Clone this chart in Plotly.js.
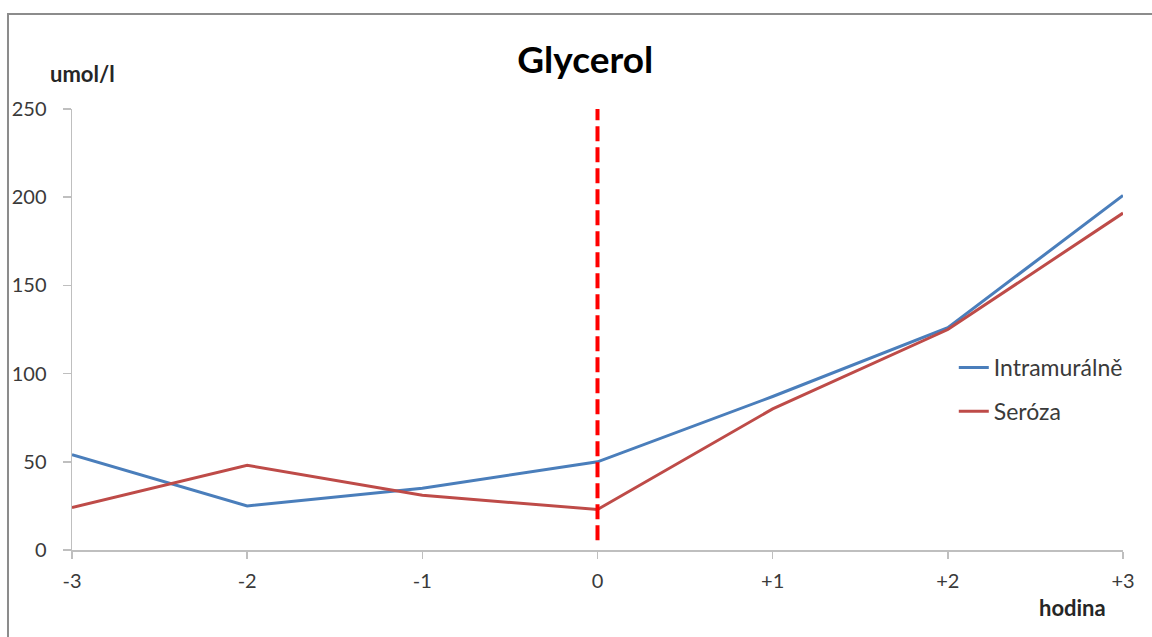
<!DOCTYPE html>
<html><head><meta charset="utf-8">
<script src="https://cdn.plot.ly/plotly-3.0.1.min.js"></script>
<style>html,body{margin:0;padding:0;background:#fff}#chart{width:1152px;height:637px}</style>
</head><body><div id="chart"></div>
<script>
const hours = [-3, -2, -1, 0, 1, 2, 3];
const hourLabels = ['-3', '-2', '-1', '0', '+1', '+2', '+3'];
const intramuralne = [54, 25, 35, 50, 87, 126, 201];
const seroza = [24, 48, 31, 23, 80, 125, 191];
const seriesNames = ['Intramurálně', 'Seróza'];
const yTicks = [0, 50, 100, 150, 200, 250];

const font = 'Lato, "Open Sans", sans-serif';
const traces = [
  {x: hours, y: intramuralne, name: seriesNames[0], type: 'scatter', mode: 'lines',
   line: {color: '#4a7ebb', width: 3}, legendgroup: 'a', hoverinfo: 'x+y'},
  {x: hours, y: seroza, name: seriesNames[1], type: 'scatter', mode: 'lines',
   line: {color: '#be4b48', width: 3}, legendgroup: 'b', hoverinfo: 'x+y'}
];
const layout = {
  width: 1152, height: 637,
  margin: {l: 72, r: 29, t: 109, b: 87},
  paper_bgcolor: '#fff', plot_bgcolor: '#fff',
  font: {family: font, size: 20, color: '#3a3a3a'},
  title: {text: '<b>Glycerol</b>', font: {family: font, size: 37, color: '#000'},
          x: 0.508, xanchor: 'center', y: 0.905, yanchor: 'middle'},
  showlegend: true,
  legend: {x: 0.839, y: 0.4626, xanchor: 'left', yanchor: 'top', tracegroupgap: 11,
           font: {family: font, size: 23, color: '#3a3a3a'}, bgcolor: 'rgba(0,0,0,0)'},
  xaxis: {range: [-3, 3], tickvals: hours, ticktext: hourLabels, showgrid: false, zeroline: false,
          showline: true, linecolor: '#bfbfbf', linewidth: 1.5, ticks: 'outside', ticklen: 7,
          tickcolor: '#bfbfbf', tickwidth: 1.5, ticklabelstandoff: 5,
          tickfont: {family: font, size: 20, color: '#3a3a3a'}},
  yaxis: {range: [0, 250], tickvals: yTicks, showgrid: false, zeroline: false,
          showline: true, linecolor: '#bfbfbf', linewidth: 1.5, ticks: 'outside', ticklen: 8,
          tickcolor: '#bfbfbf', tickwidth: 1.5, ticklabelstandoff: 12,
          tickfont: {family: font, size: 20, color: '#3a3a3a'}},
  shapes: [
    {type: 'rect', xref: 'paper', yref: 'paper', x0: -0.0609, x1: 1.2, y0: -0.5, y1: 1.2154,
     line: {color: '#8c8c8c', width: 2}, fillcolor: 'rgba(0,0,0,0)', layer: 'below'},
    {type: 'line', xref: 'x', yref: 'y', x0: 0, x1: 0, y0: 5.5, y1: 256.5,
     line: {color: '#ff0000', width: 4, dash: '15px,6px'}}
  ],
  annotations: [
    {text: '<b>umol/l</b>', xref: 'paper', yref: 'paper', x: -0.0228, y: 1.08, xanchor: 'left', yanchor: 'middle',
     showarrow: false, font: {family: font, size: 22, color: '#262626'}},
    {text: '<b>hodina</b>', xref: 'paper', yref: 'paper', x: 0.952, y: -0.131, xanchor: 'center', yanchor: 'middle',
     showarrow: false, font: {family: font, size: 22, color: '#262626'}}
  ]
};
Plotly.newPlot('chart', traces, layout, {displayModeBar: false, staticPlot: true});
</script></body></html>
